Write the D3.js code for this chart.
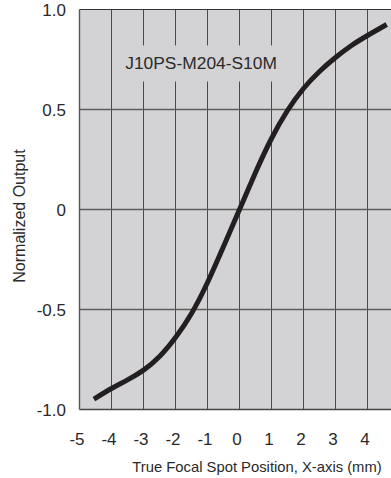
<!DOCTYPE html>
<html><head><meta charset="utf-8">
<script src="https://cdn.jsdelivr.net/npm/d3@7/dist/d3.min.js"></script>
<style>html,body{margin:0;padding:0;background:#fff;overflow:hidden}</style>
</head><body><svg id="c" width="391" height="478"></svg>
<script>
const xTicks = [-5,-4,-3,-2,-1,0,1,2,3,4];
const yTicks = [1.0,0.5,0,-0.5,-1.0];
const yTickLabels = ["1.0","0.5","0","-0.5","-1.0"];
const curveX = [-4.55,-4,-3.5,-3,-2.5,-2,-1.5,-1,-0.5,0,0.5,1,1.5,2,2.5,3,3.5,4,4.6];
const curveY = [-0.948,-0.895,-0.852,-0.803,-0.735,-0.64,-0.52,-0.365,-0.185,0.0,0.185,0.355,0.495,0.605,0.69,0.76,0.82,0.87,0.925];
const seriesLabel = "J10PS-M204-S10M";
const xTitle = "True Focal Spot Position, X-axis (mm)";
const yTitle = "Normalized Output";

const svg = d3.select("#c");
const font = "Liberation Sans, Arial, sans-serif";
const x = d3.scaleLinear().domain([-5,5]).range([79.5,399.5]);
const y = d3.scaleLinear().domain([-1,1]).range([409.5,9.5]);

svg.append("rect").attr("x",x(-5)).attr("y",y(1)).attr("width",x(5)-x(-5)).attr("height",y(-1)-y(1)).attr("fill","#d3d3d5");

svg.selectAll(".vg").data(d3.range(-4,6)).enter().append("line")
  .attr("x1",d=>x(d)).attr("x2",d=>x(d)).attr("y1",y(1)).attr("y2",y(-1))
  .attr("stroke","#4a4a4a").attr("stroke-width",1);
svg.selectAll(".hg").data([0.5,0,-0.5]).enter().append("line")
  .attr("x1",x(-5)).attr("x2",x(5)).attr("y1",d=>y(d)).attr("y2",d=>y(d))
  .attr("stroke","#5e5e5e").attr("stroke-width",1.4);

svg.append("line").attr("x1",x(-5)).attr("x2",x(5)).attr("y1",y(1)).attr("y2",y(1)).attr("stroke","#333").attr("stroke-width",1.2);
svg.append("line").attr("x1",x(-5)).attr("x2",x(5)).attr("y1",y(-1)).attr("y2",y(-1)).attr("stroke","#444").attr("stroke-width",1.4);
svg.append("line").attr("x1",x(-5)).attr("x2",x(-5)).attr("y1",y(1)).attr("y2",y(-1)).attr("stroke","#555").attr("stroke-width",1.4);

svg.append("rect").attr("x",x(-3.8)).attr("y",y(0.82)).attr("width",x(1.6)-x(-3.8)).attr("height",y(0.64)-y(0.82)).attr("fill","#d3d3d5");
svg.append("text").attr("x",x(-1.2)).attr("y",y(0.705)).attr("text-anchor","middle")
  .attr("font-family",font).attr("font-size",17.4).attr("fill","#2a2a2a").text(seriesLabel);

const pts = curveX.map((d,i)=>[d,curveY[i]]);
svg.append("path").datum(pts)
  .attr("d",d3.line().x(d=>x(d[0])).y(d=>y(d[1])).curve(d3.curveNatural))
  .attr("fill","none").attr("stroke","#231f20").attr("stroke-width",5).attr("stroke-linecap","butt");

svg.selectAll(".xt").data(xTicks).enter().append("text")
  .attr("x",d=>x(d)-2.5).attr("y",445).attr("text-anchor","middle")
  .attr("font-family",font).attr("font-size",17).attr("fill","#2a2a2a").text(d=>String(d));
svg.selectAll(".yt").data(yTicks).enter().append("text")
  .attr("x",66).attr("y",d=>y(d)+6).attr("text-anchor","end")
  .attr("font-family",font).attr("font-size",17).attr("fill","#2a2a2a").text((d,i)=>yTickLabels[i]);

svg.append("text").attr("x",257).attr("y",472).attr("text-anchor","middle")
  .attr("font-family",font).attr("font-size",14.8).attr("fill","#2a2a2a").text(xTitle);
svg.append("text").attr("transform","translate(25,216) rotate(-90)").attr("text-anchor","middle")
  .attr("font-family",font).attr("font-size",16).attr("fill","#2a2a2a").text(yTitle);
</script></body></html>
